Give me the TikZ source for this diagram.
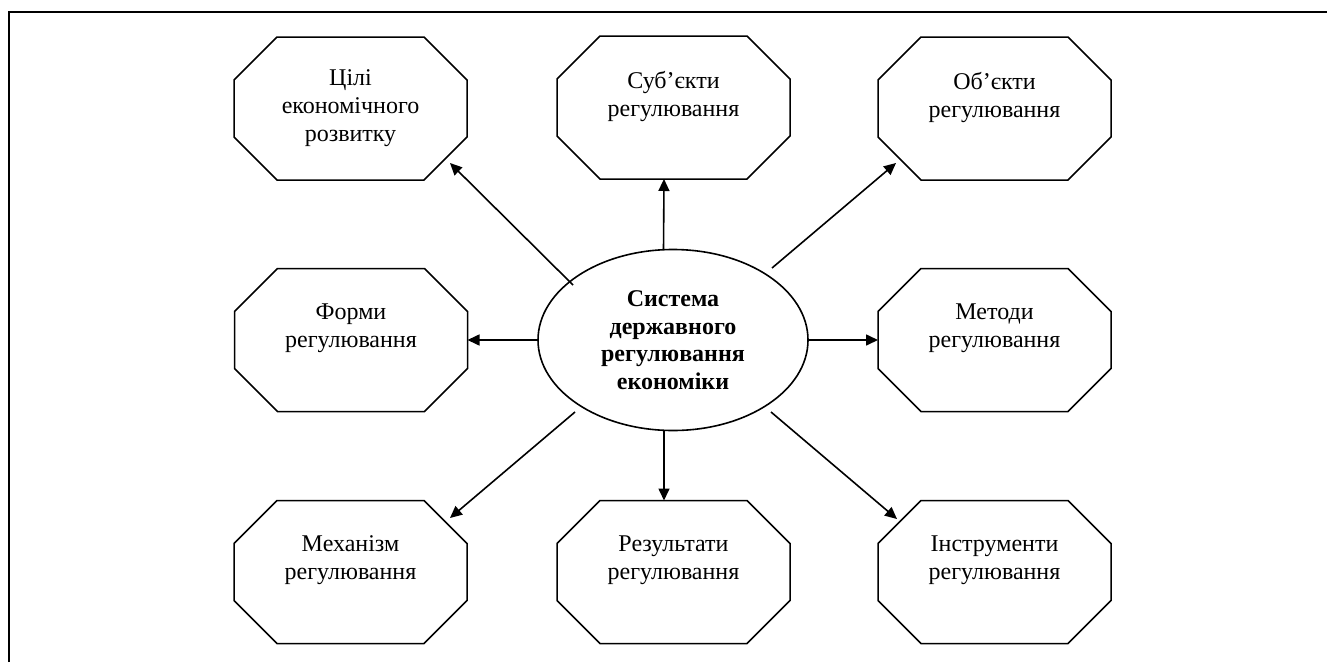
\documentclass[tikz,border=0pt]{standalone}
\usepackage{fontspec}
\setmainfont{Liberation Serif}
\usetikzlibrary{shapes.geometric,arrows.meta}
\tikzset{
  box/.style={draw=none, rectangle, minimum width=233pt, minimum height=143pt,
    inner sep=0pt, outer sep=0pt, align=center,
    font=\fontsize{24}{28}\selectfont},
  octline/.style={draw=black, line width=1.5pt, line join=miter},
  centre/.style={draw=black, line width=1.6pt, ellipse, minimum width=270pt,
    minimum height=181pt, inner sep=0pt, outer sep=0pt, align=center,
    font=\fontsize{24}{27.5}\selectfont\bfseries},
  arr/.style={draw=black, line width=1.6pt, -{Triangle[length=12pt,width=11pt]}},
  frameline/.style={draw=black, line width=2.8pt}
}
\begin{document}
\begin{tikzpicture}[x=1pt,y=-1pt]
\useasboundingbox (0,0) rectangle (1327,662);
% frame
\draw[frameline] (9,662) -- (9,12) -- (1330,12);
% boxes
\node[box] (b1) at (350.5,108.5) {Цілі\\економічного\\розвитку};
\node[box] (b2) at (673.5,107.5) {Суб’єкти\\регулювання\\\mbox{}};
\node[box] (b3) at (994.5,108.5) {Об’єкти\\регулювання\\\mbox{}};
\node[box] (b4) at (351,340) {Форми\\регулювання\\\mbox{}};
\node[box] (b5) at (994.5,340) {Методи\\регулювання\\\mbox{}};
\node[box] (b6) at (350.5,572) {Механізм\\регулювання\\\mbox{}};
\node[box] (b7) at (673.5,572) {Результати\\регулювання\\\mbox{}};
\node[box] (b8) at (994.5,572) {Інструменти\\регулювання\\\mbox{}};
\foreach \n in {b1,b2,b3,b4,b5,b6,b7,b8}{
  \draw[octline] ([xshift=43pt]\n.north west) -- ([xshift=-43pt]\n.north east)
    -- ([yshift=-43pt]\n.north east) -- ([yshift=43pt]\n.south east)
    -- ([xshift=-43pt]\n.south east) -- ([xshift=43pt]\n.south west)
    -- ([yshift=43pt]\n.south west) -- ([yshift=-43pt]\n.north west) -- cycle;
}
% centre
\node[centre] (e) at (673,340) {Система\\державного\\регулювання\\економіки};
% connectors
\coordinate (s1) at (573,285);   \coordinate (t1) at (450,163);
\coordinate (s3) at (772,268);   \coordinate (t3) at (896,163);
\coordinate (s6) at (575,412);   \coordinate (t6) at (450,518);
\coordinate (s8) at (771,412);   \coordinate (t8) at (897,519);
\draw[arr] (s1) -- (t1);
\draw[arr] (s3) -- (t3);
\draw[arr] (s6) -- (t6);
\draw[arr] (s8) -- (t8);
\draw[arr] ([xshift=-9.5pt]e.north) -- ([xshift=-9.5pt]b2.south);
\draw[arr] ([xshift=-9pt]e.south) -- ([xshift=-9.5pt]b7.north);
\draw[arr] (e.west) -- (b4.east);
\draw[arr] (e.east) -- (b5.west);
\end{tikzpicture}
\end{document}
